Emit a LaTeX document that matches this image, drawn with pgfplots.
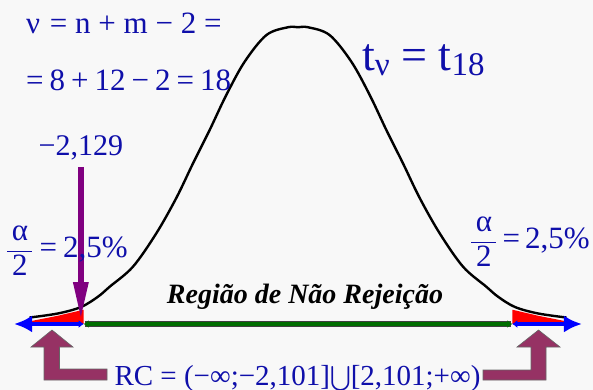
\documentclass[border=0pt]{standalone}
\usepackage{pgfplots}
\pgfplotsset{compat=1.18}
\usepackage{exscale}
\usepackage{fontspec}
\setmainfont{Liberation Serif}
\usetikzlibrary{arrows.meta}

\definecolor{txtblue}{RGB}{15,15,170}
\definecolor{tailred}{RGB}{255,0,0}
\definecolor{axisblue}{RGB}{0,0,255}
\definecolor{accgreen}{RGB}{0,110,0}
\definecolor{statpurple}{RGB}{128,0,128}
\definecolor{rcpurple}{RGB}{150,50,100}
\definecolor{bg}{RGB}{248,248,248}

\newcommand{\fs}[1]{\fontsize{#1bp}{#1bp}\selectfont}
\newcommand{\halfalpha}{$\displaystyle\frac{\hbox to 25bp{\hfil α\hfil}}{\hbox{2}}$}

% t_18 density curve (drawn shape), x in t units
\pgfplotstableread{
x y
-2.632 0.0086
-2.353 0.0140
-2.127 0.0226
-1.961 0.0363
-1.846 0.0496
-1.618 0.0762
-1.389 0.1206
-1.193 0.1676
-1.029 0.2137
-0.866 0.2580
-0.703 0.3045
-0.523 0.3488
-0.309 0.3843
-0.098 0.3946
0.000 0.3946
0.098 0.3946
0.309 0.3843
0.523 0.3488
0.703 0.3045
0.866 0.2580
1.029 0.2137
1.193 0.1676
1.389 0.1206
1.618 0.0762
1.846 0.0496
1.961 0.0363
2.127 0.0226
2.353 0.0140
2.632 0.0086
}\curve

\begin{document}
\begin{tikzpicture}
\begin{axis}[name=main, width=593bp, height=390bp, scale only axis,
  xmin=-2.9216, xmax=2.8922, ymin=-0.08777, ymax=0.43085,
  axis lines=none, clip=false,
  axis background/.style={fill=bg}]

% rejection tails
\addplot[draw=none, fill=tailred] coordinates
  {(-2.632,0.0035) (-2.353,0.0110) (-2.101,0.0190) (-2.101,0) (-2.632,0)} -- cycle;
\addplot[draw=none, fill=tailred] coordinates
  {(2.632,0.0035) (2.353,0.0110) (2.101,0.0190) (2.101,0) (2.632,0)} -- cycle;

% density curve
\addplot[black, line width=2.4bp, smooth, tension=0.55] table[x=x, y=y] {\curve};

% non-rejection region
\addplot[black!75, line width=5.5bp] coordinates {(-2.09,0) (2.09,0)};
\addplot[accgreen, line width=3.6bp,
  {Latex[length=5bp,width=8bp]}-{Latex[length=5bp,width=8bp]}]
  coordinates {(-2.101,0) (2.101,0)};

% rejection region arrows
\addplot[axisblue, line width=4.5bp,
  {Latex[length=5bp,width=8bp]}-{Latex[length=18bp,width=17bp]}]
  coordinates {(-2.101,0) (-2.784,0)};
\addplot[axisblue, line width=4.5bp,
  {Latex[length=5bp,width=8bp]}-{Latex[length=18bp,width=17bp]}]
  coordinates {(2.101,0) (2.784,0)};

% test statistic
\addplot[statpurple, line width=6bp, -{Triangle[length=38bp,width=14bp]}]
  coordinates {(-2.129,0.2088) (-2.129,0.0053)};
\node[anchor=base, inner sep=0, text=txtblue, font=\fs{30}]
  at (axis cs:-2.129,0.2234) {−2,129};
\end{axis}

\begin{axis}[width=593bp, height=390bp, scale only axis,
  xmin=0, xmax=593, ymin=0, ymax=390, y dir=reverse,
  axis lines=none, clip=false]

% bent arrows pointing at the rejection region
\addplot[fill=rcpurple, draw=black!60, line width=0.6bp] coordinates
  {(52,330) (73,347) (59.5,347) (59.5,369) (107,369) (107,380) (44,380) (44,347) (31,347)} -- cycle;
\addplot[fill=rcpurple, draw=black!60, line width=0.6bp] coordinates
  {(538.5,330) (560,347) (546,347) (546,380) (483,380) (483,370) (531,370) (531,347) (517,347)} -- cycle;

\node[anchor=base west, inner sep=0, text=txtblue, font=\fs{31}]
  at (axis cs:26,33.3) {ν\hspace{2bp} = n + m − 2 =};
\node[anchor=base west, inner sep=0, text=txtblue, font=\fs{31}]
  at (axis cs:26,90) {=\hspace{6bp}8\hspace{6bp}+\hspace{6bp}12\hspace{6bp}−\hspace{6bp}2\hspace{6bp}=\hspace{6bp}18};

\node[anchor=base west, inner sep=0, text=txtblue, font=\fs{46}]
  at (axis cs:362,70) {t\raisebox{-5bp}{\fs{33}ν} = t\raisebox{-5bp}{\fs{33}18}};

\node[anchor=base west, inner sep=0, text=txtblue, font=\fs{31}]
  at (axis cs:6,257.7) {\halfalpha\hspace{6bp}=\hspace{6bp}2,5\%};
\node[anchor=base west, inner sep=0, text=txtblue, font=\fs{31}]
  at (axis cs:470,248.3) {\halfalpha\hspace{5bp}=\hspace{5bp}2,5\%};

\node[anchor=base, inner sep=0, text=black, font=\fs{28}\bfseries\itshape]
  at (axis cs:305,303.3) {Região de Não Rejeição};

\node[anchor=base, inner sep=0, text=txtblue, font=\fs{29}]
  at (axis cs:297.5,385) {RC = (−∞;−2,101]$\bigcup$[2,101;+∞)};
\end{axis}

\pgfresetboundingbox
\path (main.south west) rectangle (main.north east);
\end{tikzpicture}
\end{document}
